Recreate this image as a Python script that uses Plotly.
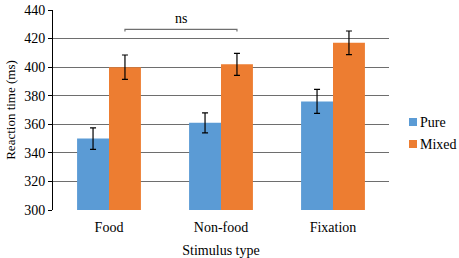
import plotly.graph_objects as go

categories = ["Food", "Non-food", "Fixation"]
pure = [350, 361, 376]
pure_err = [7.5, 7, 8.4]
mixed = [400, 402, 417]
mixed_err = [8.5, 7.7, 8.3]
y_ticks = [300, 320, 340, 360, 380, 400, 420, 440]
series_names = ["Pure", "Mixed"]
series_colors = ["#5B9BD5", "#ED7D31"]

FONT = "Liberation Serif, Times New Roman, serif"
BARGAP = 0.43
W, H = 459, 258
ML, MR, MT, MB = 53, 70, 10, 48

fig = go.Figure()
for name, vals, errs, col in zip(series_names, [pure, mixed], [pure_err, mixed_err], series_colors):
    fig.add_trace(go.Bar(
        name=name, x=categories, y=vals, marker_color=col,
        marker_line_width=0, showlegend=False, hoverinfo="skip",
        error_y=dict(type="data", array=errs, color="black", thickness=1.2, width=3),
    ))

# legend drawn as squares + labels to the right of the plot
pw, ph = W - ML - MR, H - MT - MB
for i, (name, col) in enumerate(zip(series_names, series_colors)):
    cy = (H - MB - (122 + 22 * i)) / ph   # paper y of the item centre
    sx0 = (409 - ML) / pw
    sx1 = (417 - ML) / pw
    half = 4 / ph
    fig.add_shape(type="rect", xref="paper", yref="paper",
                  x0=sx0, x1=sx1, y0=cy - half, y1=cy + half,
                  fillcolor=col, line=dict(width=0))
    fig.add_annotation(xref="paper", yref="paper", x=(418 - ML) / pw, y=cy,
                       text=name, showarrow=False, xanchor="left", yanchor="middle",
                       font=dict(family=FONT, size=14, color="black"))

# ns bracket between Food-Mixed and Non-food-Mixed
bw = (1 - BARGAP) / 2
x0 = 0 + bw / 2
x1 = 1 + bw / 2
yb = 426.5
fig.add_shape(type="path", xref="x", yref="y",
              path=f"M {x0},{yb-1.5} L {x0},{yb} L {x1},{yb} L {x1},{yb-1.5}",
              line=dict(color="#6f6f6f", width=1.2))
fig.add_annotation(x=(x0 + x1) / 2, y=yb, xref="x", yref="y", text="ns",
                   showarrow=False, yanchor="bottom", yshift=1,
                   font=dict(family=FONT, size=14, color="black"))

fig.update_layout(
    width=W, height=H,
    margin=dict(l=ML, r=MR, t=MT, b=MB, autoexpand=False),
    paper_bgcolor="white", plot_bgcolor="white",
    barmode="group", bargap=BARGAP, bargroupgap=0,
    font=dict(family=FONT, size=14, color="black"),
    showlegend=False,
)
fig.update_xaxes(
    showline=False, showgrid=False, ticks="", automargin=False,
    ticklabelstandoff=7,
    tickfont=dict(family=FONT, size=14),
    title=dict(text="Stimulus type", font=dict(family=FONT, size=14), standoff=11),
)
fig.update_yaxes(
    range=[300, 440], tickvals=y_ticks, showgrid=True, gridcolor="#6e6e6e",
    gridwidth=1, showline=True, linecolor="black", linewidth=1, automargin=False,
    ticks="outside", ticklen=4, tickcolor="black", zeroline=False,
    tickfont=dict(family=FONT, size=14),
    title=dict(text="Reaction time (ms)", font=dict(family=FONT, size=13), standoff=5),
)

fig.write_html("out.html", config={"displayModeBar": False},
               post_script="document.body.style.margin='0';")
